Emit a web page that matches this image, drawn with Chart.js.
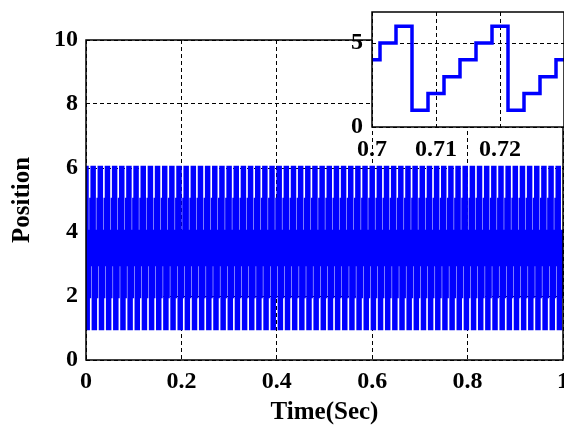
<!DOCTYPE html>
<html>
<head>
<meta charset="utf-8">
<script src="https://cdn.jsdelivr.net/npm/chart.js@4.4.0/dist/chart.umd.min.js"></script>
<style>
  html, body { margin: 0; padding: 0; background: #fff; overflow: hidden; }
  #wrap { position: relative; width: 564px; height: 428px; }
  #mainChart { position: absolute; left: 0; top: 0; }
  #insetChart { position: absolute; left: 330px; top: 0; }
</style>
</head>
<body>
<div id="wrap">
  <canvas id="mainChart" width="564" height="428"></canvas>
  <canvas id="insetChart" width="234" height="170"></canvas>
</div>
<script>
// Hall sector (position) held during each commutation step
const hallSectors = (
    '6' +
    '123456123456123456123456123456123456123456123456123456123456' +
    '123456123456123456123456123456123456123456123456123456123456' +
    '123456123456123456123456123456123456123456123456123456123456' +
    '123456123456123456123456123456123456123456123456123456123456' +
    '123456123456123456123456123456123456123456123456123456123456' +
    '123456123456123456123456123456123456123456123456123456123456' +
    '123456123456123456123456123456123456' +
    '1234'
).split('').map(Number);

// Step timing (s): first switch and step length
const firstSwitch = 0.00125;
const stepLength = 0.0025;
const endTime = 1;

// Axis ticks
const timeTicks = [0, 0.2, 0.4, 0.6, 0.8, 1];
const timeTickLabels = ['0', '0.2', '0.4', '0.6', '0.8', '1'];
const positionTicks = [0, 2, 4, 6, 8, 10];
const insetTimeTicks = [0.7, 0.71, 0.72];
const insetTimeTickLabels = ['0.7', '0.71', '0.72'];
const insetPositionTicks = [0, 5];

// Build the stepped series: each sector starts at its switch time
const positionPoints = hallSectors.map((s, i) => ({
    x: i === 0 ? 0 : firstSwitch + (i - 1) * stepLength,
    y: s
}));
positionPoints.push({ x: endTime, y: hallSectors[hallSectors.length - 1] });

const serifBold = (size) => ({ family: "'Liberation Serif', 'Times New Roman', serif", weight: 'bold', size: size });

// White plot background (inset) and a full black frame round the plot area
const frameBox = {
    id: 'frameBox',
    beforeDraw(chart, args, opts) {
        if (!opts.fill) return;
        const { ctx, chartArea: a } = chart;
        ctx.save();
        ctx.fillStyle = '#fff';
        ctx.fillRect(a.left, a.top, a.right - a.left, a.bottom - a.top);
        ctx.restore();
    },
    afterDraw(chart, args, opts) {
        const { ctx, chartArea: a } = chart;
        ctx.save();
        ctx.strokeStyle = '#000';
        ctx.lineWidth = opts.width || 1.5;
        ctx.strokeRect(a.left, a.top, a.right - a.left, a.bottom - a.top);
        ctx.restore();
    }
};

function fixedTicks(values) {
    return (scale) => { scale.ticks = values.map(v => ({ value: v })); };
}

function axisOptions(cfg) {
    return {
        type: 'linear',
        min: cfg.min,
        max: cfg.max,
        z: 1, // grid on top of the trace, like the original
        afterBuildTicks: fixedTicks(cfg.ticks),
        afterFit: (scale) => {
            if (cfg.width) scale.width = cfg.width;
            if (cfg.height) scale.height = cfg.height;
            scale.paddingLeft = 0; scale.paddingRight = 0;
            scale.paddingTop = 0; scale.paddingBottom = 0;
        },
        grid: { color: '#000', lineWidth: 1, drawTicks: false },
        border: { display: false, dash: [4, 3] },
        ticks: {
            color: '#000',
            font: serifBold(24),
            padding: cfg.padding,
            autoSkip: false,
            maxRotation: 0,
            callback: (v) => {
                const i = cfg.ticks.indexOf(v);
                return i >= 0 && cfg.labels ? cfg.labels[i] : String(v);
            }
        },
        title: cfg.title ? {
            display: true,
            text: cfg.title,
            color: '#000',
            font: serifBold(25),
            padding: cfg.titlePadding
        } : { display: false }
    };
}

function chartOptions(x, y, padding, boxOpts) {
    return {
        responsive: false,
        animation: false,
        events: [],
        layout: { padding: padding },
        plugins: {
            legend: { display: false },
            tooltip: { enabled: false },
            frameBox: boxOpts
        },
        scales: { x: x, y: y }
    };
}

const traceDataset = (width) => ({
    data: positionPoints,
    borderColor: '#0000ff',
    borderWidth: width,
    stepped: true,
    pointRadius: 0,
    fill: false
});

// Main plot
new Chart(document.getElementById('mainChart'), {
    type: 'line',
    data: { datasets: [traceDataset(4.3)] },
    plugins: [frameBox],
    options: chartOptions(
        axisOptions({ min: 0, max: 1, ticks: timeTicks, labels: timeTickLabels, height: 68, padding: 7,
                      title: 'Time(Sec)', titlePadding: { top: 0, bottom: 0 } }),
        axisOptions({ min: 0, max: 10, ticks: positionTicks, width: 86, padding: 8,
                      title: 'Position', titlePadding: { top: 8, bottom: 0 } }),
        { top: 40, right: 1, left: 0, bottom: 0 },
        { width: 1.5 }
    )
});

// Zoomed inset, 0.7 s to 0.73 s
new Chart(document.getElementById('insetChart'), {
    type: 'line',
    data: { datasets: [traceDataset(3.5)] },
    plugins: [frameBox],
    options: chartOptions(
        axisOptions({ min: 0.7, max: 0.73, ticks: insetTimeTicks, labels: insetTimeTickLabels, height: 43, padding: 8 }),
        axisOptions({ min: 0, max: 6.85, ticks: insetPositionTicks, width: 42, padding: 9 }),
        { top: 12, right: 0, left: 0, bottom: 0 },
        { width: 1.5, fill: true }
    )
});
</script>
</body>
</html>
